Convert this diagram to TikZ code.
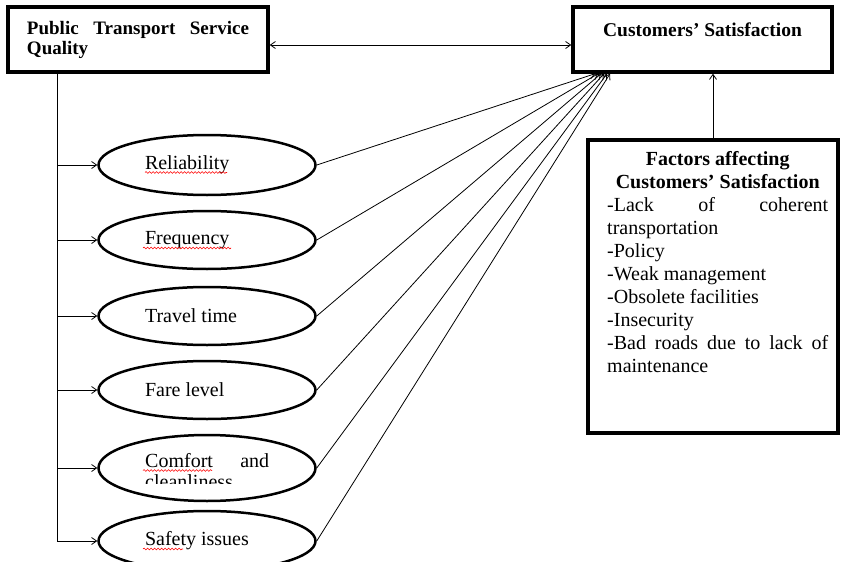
\documentclass[tikz,border=0pt]{standalone}
\usepackage{fontspec}
\setmainfont{Liberation Serif}
\usetikzlibrary{arrows.meta,shapes.geometric,decorations.pathmorphing,calc}
\setlength\parindent{0pt}
\hyphenpenalty=10000
\tolerance=10000
\hbadness=10000
\begin{document}
\begin{tikzpicture}[x=1pt,y=-1pt,
  box/.style={draw, line width=3.5pt, rectangle, inner sep=0pt},
  oval/.style={draw, ellipse, line width=2.5pt, minimum width=217pt, inner sep=0pt,
    text width=124pt, align=justify, font=\fontsize{20}{21}\selectfont},
  conn/.style={line width=0.8pt, -{Straight Barb[length=5pt,width=7pt]}},
  wavy/.style={red, line width=0.6pt, decorate,
    decoration={snake, amplitude=0.9pt, segment length=3.5pt}}
]
\useasboundingbox (0,0) rectangle (841,562);

% top boxes
\node[box, minimum width=260pt, minimum height=65pt, text width=222pt, align=justify,
  font=\fontsize{19}{20}\selectfont\bfseries] (ptsq) at (138,39.5)
  {Public Transport Service Quality};
\node[box, minimum width=259pt, text height=14pt, text depth=20pt, inner ysep=15.5pt,
  font=\fontsize{19.5}{20}\selectfont\bfseries] (cust) at (702.5,39.5)
  {Customers' Satisfaction};

\draw[line width=0.8pt, {Straight Barb[length=5pt,width=7pt]}-{Straight Barb[length=5pt,width=7pt]}]
  ([yshift=-5.5pt]ptsq.east) -- ([yshift=-5.5pt]cust.west);

% ellipses
\node[oval, minimum height=60pt] (e1) at (207,165) {Reliability};
\node[oval, minimum height=58pt] (e2) at (207,240) {Frequency};
\node[oval, minimum height=58pt] (e3) at (207,316) {Travel time};
\node[oval, minimum height=58pt] (e4) at (207,390) {Fare level};
\node[oval, minimum height=66pt] (e5) at (207,468) {};
\node[oval, minimum height=60pt] (e6) at (207,541) {Safety issues};
\begin{scope}
  \clip (140,440) rectangle (275,483);
  \node[anchor=north west, inner sep=0pt, text width=124pt, align=justify,
    font=\fontsize{20}{21}\selectfont] (e5txt) at (145,453) {Comfort and cleanliness};
\end{scope}

% spell-check underlines
\draw[wavy] (145,172.5) -- (227,172.5);
\draw[wavy] (143,248) -- (231,248);
\draw[wavy] (143,470.5) -- (212,470.5);
\draw[wavy] (143,549) -- (183,549);

% trunk and branches
\path (ptsq.south) ++(-81,0) coordinate (trunkTop);
\draw[line width=0.8pt] (trunkTop) -- (trunkTop |- e6.west);
\foreach \e in {e1,e2,e3,e4,e5,e6}
  \draw[conn] (trunkTop |- \e.west) -- (\e.west);

% connectors to satisfaction
\foreach \e/\dx in {e1/-107.5,e2/-104.5,e3/-101.5,e4/-98.5,e5/-95.5,e6/-92.5}
  \draw[conn] (\e.east) -- ([xshift=\dx pt]cust.south);

% factors box
\node[box, minimum width=250pt, minimum height=293pt] (fac) at (713,286.5) {};
\node[anchor=north west, inner sep=0pt, text width=221pt, align=justify,
  font=\fontsize{20}{23}\selectfont] (factxt) at (607,151)
  {{\centering\bfseries Factors affecting\\Customers' Satisfaction\par}
   -Lack of coherent transportation\par
   -Policy\par
   -Weak management\par
   -Obsolete facilities\par
   -Insecurity\par
   -Bad roads due to lack of maintenance\par};

\draw[conn] (fac.north) -- (fac.north |- cust.south);
\end{tikzpicture}
\end{document}
